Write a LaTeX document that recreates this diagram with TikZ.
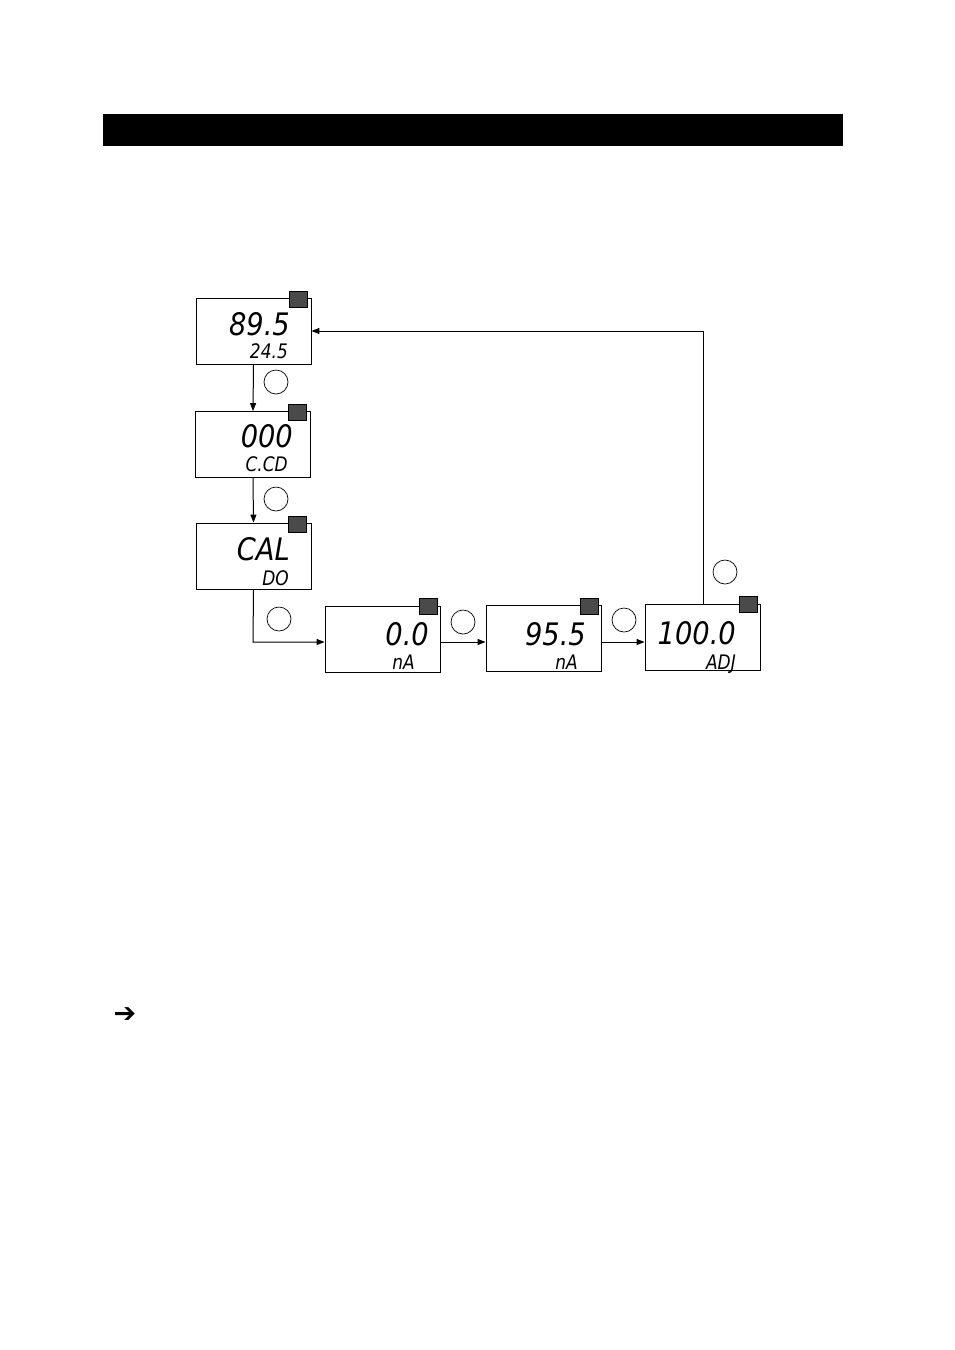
\documentclass[tikz,border=0pt]{standalone}
\usepackage{fontspec}
\newfontfamily\segfont{DejaVu Sans}
\newfontfamily\symfont{DejaVu Sans}
\usetikzlibrary{arrows.meta}
\definecolor{sqgray}{HTML}{4A4A4A}
\tikzset{
  lcd/.style={draw=black, line width=0.9pt, minimum width=115pt, minimum height=66pt, inner sep=0pt},
  sq/.style={draw=black, line width=0.5pt, fill=sqgray, minimum width=18pt, minimum height=16pt, inner sep=0pt},
  big/.style={anchor=base east, inner sep=0pt, font=\segfont\itshape\fontsize{31}{31}\selectfont, xscale=0.88},
  small/.style={anchor=base east, inner sep=0pt, font=\segfont\itshape\fontsize{20}{20}\selectfont, xscale=0.85},
  btn/.style={draw=black, line width=0.7pt, circle, minimum size=24pt, inner sep=0pt},
  conn/.style={line width=1pt, -{Triangle[length=8pt,width=6pt]}},
  plain/.style={line width=1pt}
}
\begin{document}
\begin{tikzpicture}[x=1pt,y=-1pt]
\useasboundingbox (0,0) rectangle (954,1350);
% header bar
\fill[black] (103,114) rectangle (843,146);
% boxes
\node[lcd] (b1) at (253.5,331) {};
\node[lcd] (b2) at (253,444.5) {};
\node[lcd] (b3) at (253.5,556) {};
\node[lcd] (b4) at (382.5,639) {};
\node[lcd] (b5) at (543.5,638) {};
\node[lcd] (b6) at (702.5,637) {};
% squares
\node[sq] (s1) at (298,299.5) {};
\node[sq] (s2) at (297,412.5) {};
\node[sq] (s3) at (297,524) {};
\node[sq] (s4) at (428,606.5) {};
\node[sq] (s5) at (589,606.5) {};
\node[sq] (s6) at (748,604.5) {};
% texts
\node[big] (t1) at (290,335) {89.5};
\node[small] (u1) at (288,358) {24.5};
\node[big] (t2) at (293,447) {000};
\node[small] (u2) at (288,471) {C.CD};
\node[big] (t3) at (290,560) {CAL};
\node[small] (u3) at (289,585) {DO};
\node[big] (t4) at (429,645) {0.0};
\node[small] (u4) at (415,669) {nA};
\node[big] (t5) at (586,645) {95.5};
\node[small] (u5) at (578,669) {nA};
\node[big] (t6) at (736,644) {100.0};
\node[small] (u6) at (736,669) {ADJ};
% buttons
\node[btn] (c1) at (276,382) {};
\node[btn] (c2) at (276,499) {};
\node[btn] (c3) at (279,619) {};
\node[btn] (c4) at (463,622) {};
\node[btn] (c5) at (624,620) {};
\node[btn] (c6) at (725,572) {};
% connectors
\draw[conn] (b1.south) -- (b2.north);
\draw[conn] (b2.south) -- (b3.north);
\coordinate (k1) at (253,642);
\draw[conn] (b3.south) -- (k1) -- (b4.west |- k1);
\draw[conn] (b4.east |- k1) -- (b5.west |- k1);
\draw[conn] (b5.east |- k1) -- (b6.west |- k1);
\coordinate (k2) at (703,331);
\draw[conn] (b6.north -| k2) -- (k2) -- (b1.east);
% bottom arrow glyph
\node[inner sep=0pt, font=\symfont\bfseries\fontsize{27}{27}\selectfont] (g) at (125,1015) {➔};
\end{tikzpicture}
\end{document}
